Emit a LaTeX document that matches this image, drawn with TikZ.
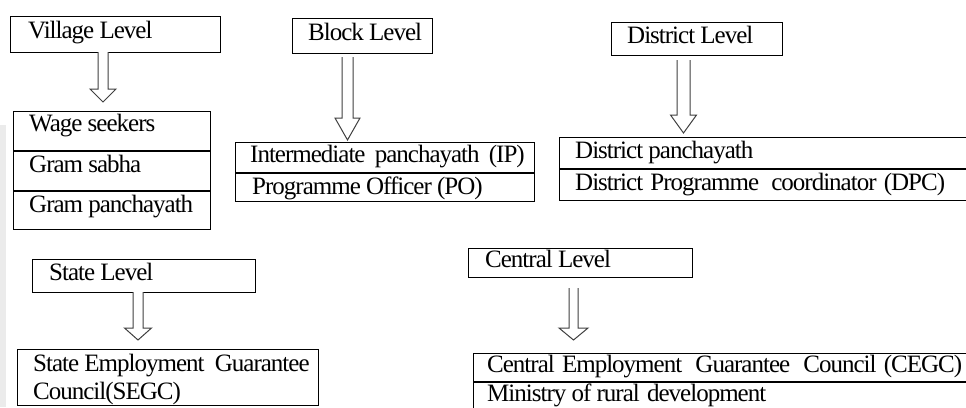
\documentclass[tikz,border=0pt]{standalone}
\usepackage{fontspec}
\setmainfont{Liberation Serif}[LetterSpace=-4.0]
\definecolor{stripgray}{HTML}{EBEBEB}
\definecolor{arrowgray}{HTML}{404040}
\tikzset{
  box/.style={draw=black, line width=1.3pt, inner sep=0pt, anchor=north west},
  lbl/.style={anchor=base west, inner sep=0pt, font=\fontsize{25}{29}\selectfont},
  divider/.style={draw=black, line width=1.1pt},
  hollow/.style={draw=arrowgray, line width=1pt, fill=white, line join=miter},
}
% #1 = x centre, #2 = shaft top, #3 = head start, #4 = tip, #5 = half shaft, #6 = half head
\newcommand{\hollowarrow}[6]{%
  \draw[hollow] (#1-#5,#2) -- (#1-#5,#3) -- (#1-#6,#3) -- (#1,#4) -- (#1+#6,#3)
    -- (#1+#5,#3) -- (#1+#5,#2);}
\begin{document}
\begin{tikzpicture}[x=1pt,y=-1pt]
\clip (0,0) rectangle (966,407);
\fill[white] (0,0) rectangle (966,407);
\fill[stripgray] (0,125) rectangle (6,407);

% Village level
\node[box, minimum width=210pt, minimum height=36pt] (village) at (10,16) {};
\node[lbl] (villaget) at (28,38) {Village Level};
\node[box, minimum width=197pt, minimum height=118pt] (villagesub) at (13,111) {};
\draw[divider] (villagesub.west |- 0,151) -- (villagesub.east |- 0,151);
\draw[divider] (villagesub.west |- 0,191) -- (villagesub.east |- 0,191);
\node[lbl] (wage) at (29,131) {Wage seekers};
\node[lbl] (sabha) at (29,172) {Gram sabha};
\node[lbl] (gpanch) at (29,212) {Gram panchayath};
\hollowarrow{103}{52}{89}{102}{5}{13}

% Block level
\node[box, minimum width=140pt, minimum height=35pt] (block) at (292,18) {};
\node[lbl] (blockt) at (308,40) {Block Level};
\node[box, minimum width=299pt, minimum height=59pt] (blocksub) at (235,142) {};
\draw[divider] (blocksub.west |- 0,173) -- (blocksub.east |- 0,173);
\node[lbl] (ip) at (250,162) {Intermediate\hspace{4pt} panchayath\hspace{4pt} (IP)};
\node[lbl] (po) at (252,194) {Programme Officer (PO)};
\hollowarrow{347.5}{57}{118}{140}{5.5}{12.5}

% District level
\node[box, minimum width=171pt, minimum height=33pt] (district) at (611,22) {};
\node[lbl] (districtt) at (627,43) {District Level};
\node[box, minimum width=420pt, minimum height=63pt] (districtsub) at (559,137) {};
\draw[divider] (districtsub.west |- 0,169) -- (980,169);
\node[lbl] (dp) at (575,158) {District panchayath};
\node[lbl] (dpc) at (575,190) {District\hspace{2pt} Programme\hspace{7pt} coordinator\hspace{2pt} (DPC)};
\hollowarrow{683.5}{60}{115}{133}{6.5}{13}

% State level
\node[box, minimum width=223pt, minimum height=33pt] (state) at (32,259) {};
\node[lbl] (statet) at (49,280) {State Level};
\node[box, minimum width=301pt, minimum height=56pt] (statesub) at (17,349) {};
\node[lbl] (segc1) at (33,371) {State Employment\hspace{5pt} Guarantee};
\node[lbl] (segc2) at (33,399) {Council(SEGC)};
\hollowarrow{138}{292}{328}{340}{5}{13.5}

% Central level
\node[box, minimum width=224pt, minimum height=29pt] (central) at (468,248) {};
\node[lbl] (centralt) at (485,267) {Central Level};
\node[box, minimum width=510pt, minimum height=80pt] (centralsub) at (473,353) {};
\draw[divider] (centralsub.west |- 0,382) -- (990,382);
\node[lbl] (cegc) at (487,372) {Central\hspace{2pt} Employment\hspace{8pt} Guarantee\hspace{8pt} Council\hspace{2pt} (CEGC)};
\node[lbl] (mord) at (487,401) {Ministry of rural\hspace{2pt} development};
\hollowarrow{573.5}{288}{328}{340}{4.5}{14.5}
\end{tikzpicture}
\end{document}
